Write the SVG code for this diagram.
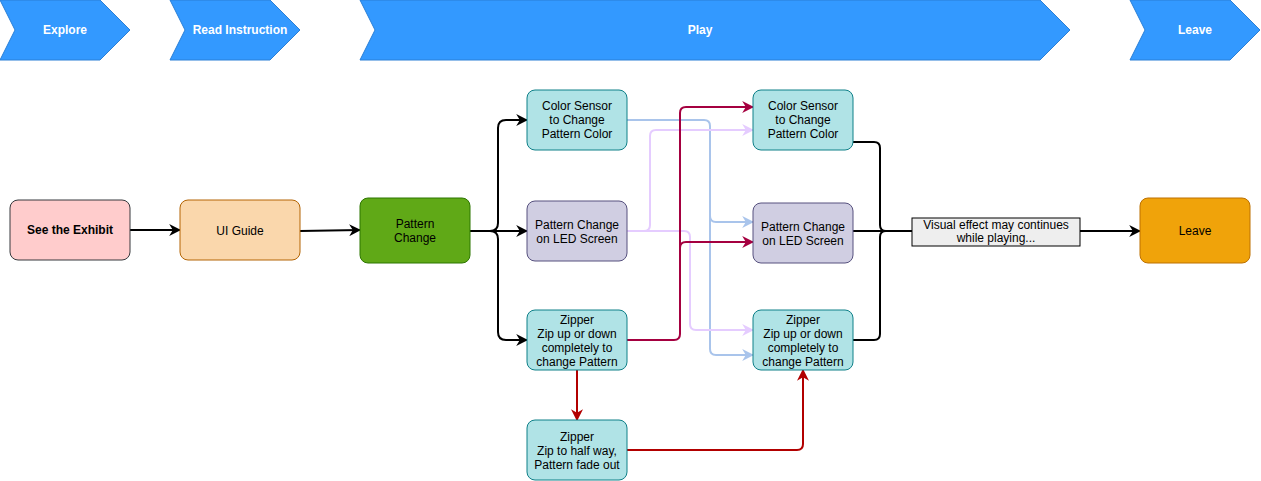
<svg xmlns="http://www.w3.org/2000/svg" width="1261" height="481" viewBox="0 0 1261 481">
<style>
text{font-family:"Liberation Sans",Arial,sans-serif;font-size:12px;text-anchor:middle;fill:#000}
.ban{fill:#3399ff;stroke:#2a7fd6;stroke-width:1}
.bt{fill:#fff;font-weight:bold}
.n{stroke-width:1}
.c{fill:none;stroke-width:2}
</style>
<defs>
<marker id="ak" viewBox="0 0 10 10" refX="9" refY="5" markerWidth="6" markerHeight="6" orient="auto" markerUnits="userSpaceOnUse" style="overflow:visible"><path d="M0,0 L10,5 L0,10 L3,5 Z" fill="#000"/></marker>
<marker id="ab" viewBox="0 0 10 10" refX="9" refY="5" markerWidth="12" markerHeight="12" orient="auto" markerUnits="userSpaceOnUse"><path d="M0,0 L10,5 L0,10 L3,5 Z" fill="#a9c4eb"/></marker>
<marker id="ap" viewBox="0 0 10 10" refX="9" refY="5" markerWidth="12" markerHeight="12" orient="auto" markerUnits="userSpaceOnUse"><path d="M0,0 L10,5 L0,10 L3,5 Z" fill="#e5ccff"/></marker>
<marker id="ar" viewBox="0 0 10 10" refX="9" refY="5" markerWidth="12" markerHeight="12" orient="auto" markerUnits="userSpaceOnUse"><path d="M0,0 L10,5 L0,10 L3,5 Z" fill="#a50040"/></marker>
<marker id="ad" viewBox="0 0 10 10" refX="9" refY="5" markerWidth="12" markerHeight="12" orient="auto" markerUnits="userSpaceOnUse"><path d="M0,0 L10,5 L0,10 L3,5 Z" fill="#b20000"/></marker>
<marker id="a" viewBox="0 0 10 10" refX="9" refY="5" markerWidth="12" markerHeight="12" orient="auto" markerUnits="userSpaceOnUse"><path d="M0,0 L10,5 L0,10 L3,5 Z" fill="#000"/></marker>
</defs>
<g id="phases">
<g id="ph-explore"><path class="ban" d="M0,0 H100 L130,30 L100,60 H0 L15,30 Z"/><text class="bt" x="65" y="34">Explore</text></g>
<g id="ph-read"><path class="ban" d="M170,0 H270 L300,30 L270,60 H170 L185,30 Z"/><text class="bt" x="240" y="34">Read Instruction</text></g>
<g id="ph-play"><path class="ban" d="M360,0 H1040 L1070,30 L1040,60 H360 L375,30 Z"/><text class="bt" x="700" y="34">Play</text></g>
<g id="ph-leave"><path class="ban" d="M1130,0 H1230 L1260,30 L1230,60 H1130 L1145,30 Z"/><text class="bt" x="1195" y="34">Leave</text></g>
</g>
<g id="connectors">
<path class="c" stroke="#000" d="M130,230 H180" marker-end="url(#a)"/>
<path class="c" stroke="#000" d="M300,231 L360,230" marker-end="url(#a)"/>
<path class="c" stroke="#000" d="M470,231 H527" marker-end="url(#a)"/>
<path class="c" stroke="#000" d="M470,231 H490 Q498,231 498,223 V128 Q498,120 506,120 H527" marker-end="url(#a)"/>
<path class="c" stroke="#000" d="M470,231 H490 Q498,231 498,239 V332 Q498,340 506,340 H527" marker-end="url(#a)"/>
<path class="c" stroke="#a9c4eb" d="M627,120 H704 Q710,120 710,126 V216 Q710,222 716,222 H753" marker-end="url(#ab)"/>
<path class="c" stroke="#a9c4eb" d="M710,210 V349 Q710,355 716,355 H753" marker-end="url(#ab)"/>
<path class="c" stroke="#e5ccff" d="M627,231 H644 Q650,231 650,225 V136 Q650,130 656,130 H753" marker-end="url(#ap)"/>
<path class="c" stroke="#e5ccff" d="M627,231 H684 Q690,231 690,237 V324 Q690,330 696,330 H753" marker-end="url(#ap)"/>
<path class="c" stroke="#a50040" d="M627,340 H674 Q680,340 680,334 V113 Q680,107 686,107 H753" marker-end="url(#ar)"/>
<path class="c" stroke="#a50040" d="M680,250 V248 Q680,242 686,242 H753" marker-end="url(#ar)"/>
<path class="c" stroke="#b20000" d="M577,370 V420" marker-end="url(#ad)"/>
<path class="c" stroke="#b20000" d="M627,450 H797 Q803,450 803,444 V370" marker-end="url(#ad)"/>
<path class="c" stroke="#000" d="M853,142 H874 Q880,142 880,148 V225 Q880,231 886,231 H912"/>
<path class="c" stroke="#000" d="M853,340 H874 Q880,340 880,334 V237 Q880,231 886,231 H912"/>
<path class="c" stroke="#000" d="M853,231 H912"/>
<path class="c" stroke="#000" d="M1080,231 H1140" marker-end="url(#a)"/>
</g>
<g id="n-exhibit"><rect class="n" x="10" y="200" width="120" height="60" rx="8" fill="#ffcccc" stroke="#36393d"/><text x="70" y="234" font-weight="bold">See the Exhibit</text></g>
<g id="n-ui"><rect class="n" x="180" y="200" width="120" height="60" rx="8" fill="#fad7ac" stroke="#b46504"/><text x="240" y="235">UI Guide</text></g>
<g id="n-pattern"><rect class="n" x="360" y="198" width="110" height="65" rx="8" fill="#60a917" stroke="#2d7600"/><text x="415" y="228">Pattern</text><text x="415" y="242">Change</text></g>
<g id="n-cs1"><rect class="n" x="527" y="90" width="100" height="60" rx="8" fill="#b0e3e6" stroke="#0e8088"/><text x="577" y="110">Color Sensor</text><text x="577" y="124">to Change</text><text x="577" y="138">Pattern Color</text></g>
<g id="n-led1"><rect class="n" x="527" y="201" width="100" height="60" rx="8" fill="#d0cee2" stroke="#56517e"/><text x="577" y="229">Pattern Change</text><text x="577" y="243">on LED Screen</text></g>
<g id="n-zip1"><rect class="n" x="527" y="310" width="100" height="60" rx="8" fill="#b0e3e6" stroke="#0e8088"/><text x="577" y="324">Zipper</text><text x="577" y="338">Zip up or down</text><text x="577" y="352">completely to</text><text x="577" y="366">change Pattern</text></g>
<g id="n-zip-half"><rect class="n" x="527" y="420" width="100" height="60" rx="8" fill="#b0e3e6" stroke="#0e8088"/><text x="577" y="441">Zipper</text><text x="577" y="455">Zip to half way,</text><text x="577" y="469">Pattern fade out</text></g>
<g id="n-cs2"><rect class="n" x="753" y="90" width="100" height="60" rx="8" fill="#b0e3e6" stroke="#0e8088"/><text x="803" y="110">Color Sensor</text><text x="803" y="124">to Change</text><text x="803" y="138">Pattern Color</text></g>
<g id="n-led2"><rect class="n" x="753" y="203" width="100" height="60" rx="8" fill="#d0cee2" stroke="#56517e"/><text x="803" y="231">Pattern Change</text><text x="803" y="245">on LED Screen</text></g>
<g id="n-zip2"><rect class="n" x="753" y="310" width="100" height="60" rx="8" fill="#b0e3e6" stroke="#0e8088"/><text x="803" y="324">Zipper</text><text x="803" y="338">Zip up or down</text><text x="803" y="352">completely to</text><text x="803" y="366">change Pattern</text></g>
<g id="n-label"><rect x="912" y="218" width="168" height="28" fill="#eeeeee" stroke="#000"/><text x="996" y="229" font-size="11">Visual effect may continues</text><text x="996" y="242" font-size="11">while playing...</text></g>
<g id="n-leave"><rect class="n" x="1140" y="198" width="110" height="65" rx="8" fill="#f0a30a" stroke="#bd7000"/><text x="1195" y="235">Leave</text></g>
</svg>
